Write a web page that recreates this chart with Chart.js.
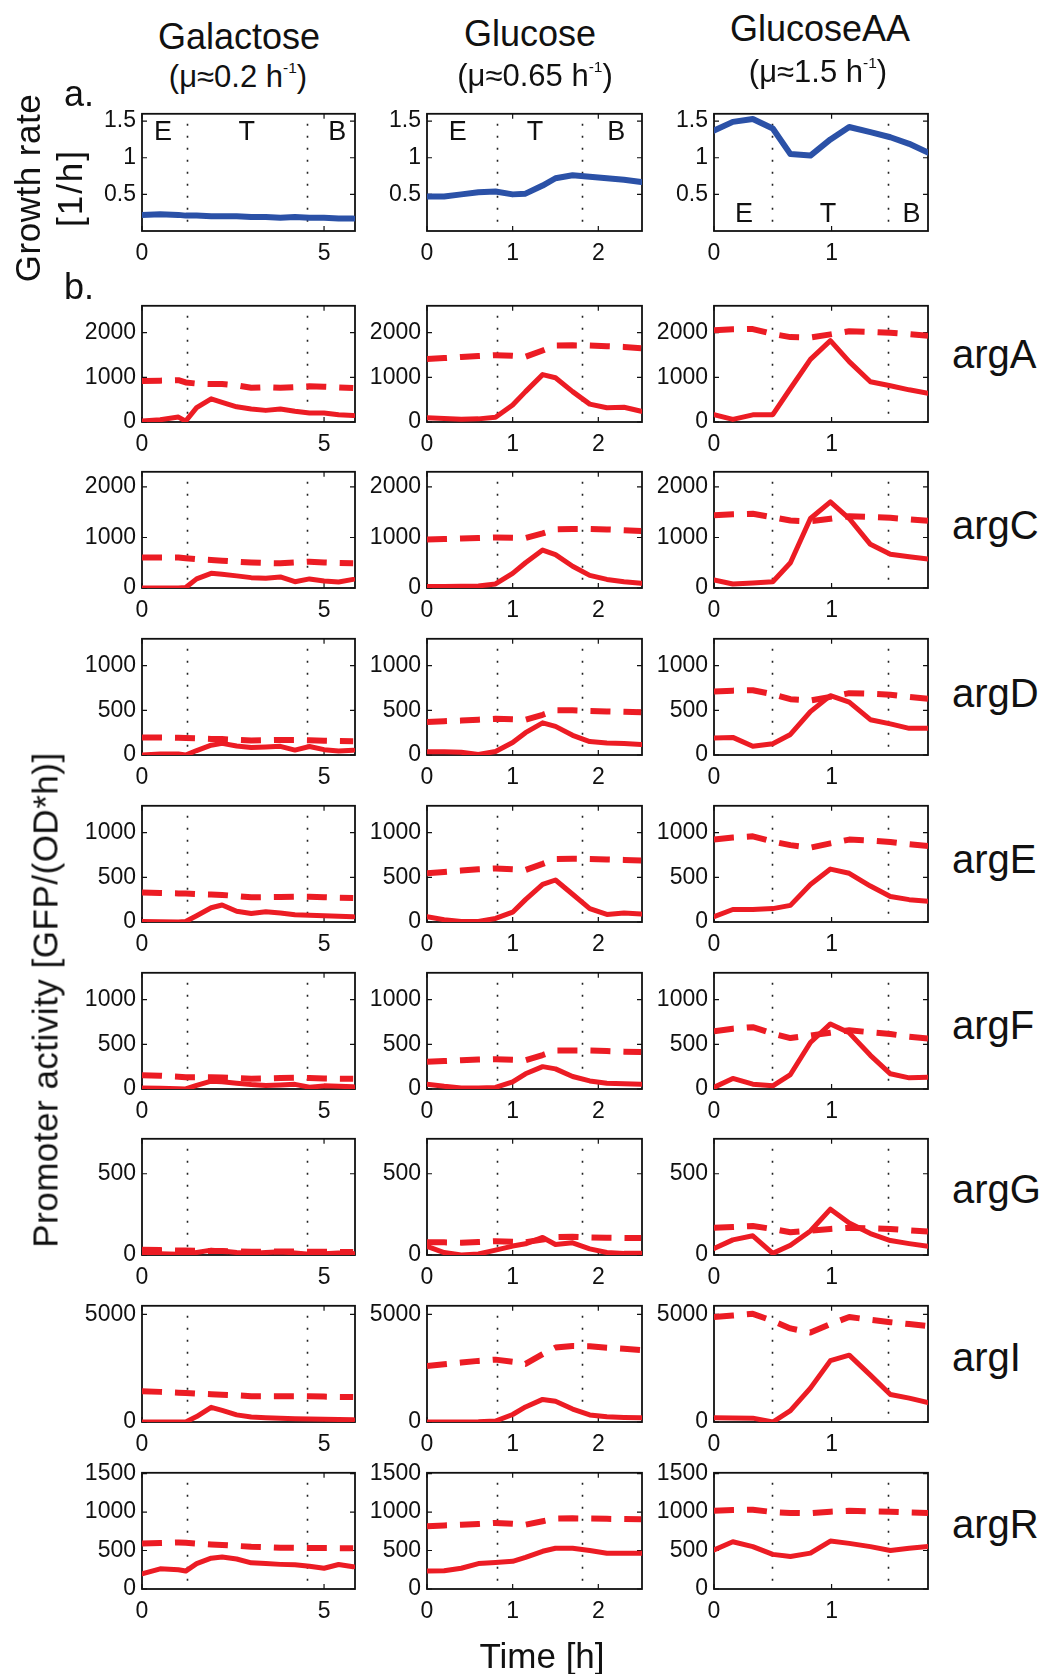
<!DOCTYPE html>
<html><head><meta charset="utf-8">
<script src="https://cdn.jsdelivr.net/npm/chart.js@4.4.1/dist/chart.umd.min.js"></script>
<style>
html,body{margin:0;padding:0;background:#fff;}
#fig{position:relative;width:1046px;height:1674px;overflow:hidden;font-family:"Liberation Sans",Arial,sans-serif;color:#111;}
#fig canvas{position:absolute;}
.lbl{position:absolute;white-space:nowrap;}
.lbl sup{font-size:0.5em;vertical-align:0.9em;line-height:0;}
</style></head><body><div id="fig"></div><script>
// ---- time grids (h) for the three growth conditions ----
const tGal = [0, 0.5, 1.0, 1.2, 1.5, 1.9, 2.2, 2.6, 3.0, 3.4, 3.8, 4.2, 4.6, 5.0, 5.4, 5.8];
const tGlu = [0, 0.2, 0.4, 0.6, 0.8, 1.0, 1.15, 1.35, 1.5, 1.7, 1.9, 2.1, 2.3, 2.5];
const tAA  = [0, 0.16, 0.33, 0.5, 0.65, 0.82, 0.99, 1.15, 1.33, 1.5, 1.66, 1.82];

// ---- growth rate [1/h] ----
const growthGal = [0.22, 0.23, 0.22, 0.21, 0.21, 0.20, 0.20, 0.20, 0.19, 0.19, 0.18, 0.19, 0.18, 0.18, 0.17, 0.17];
const growthGlu = [0.47, 0.47, 0.50, 0.53, 0.54, 0.50, 0.51, 0.62, 0.72, 0.76, 0.74, 0.72, 0.70, 0.67];
const growthAA  = [1.37, 1.49, 1.53, 1.40, 1.05, 1.03, 1.25, 1.42, 1.35, 1.28, 1.19, 1.07];

// ---- promoter activity [GFP/(OD*h)]: solid = activity, *_dash = dashed curve ----
const argA_gal = [20, 50, 110, 20, 320, 520, 440, 340, 290, 260, 290, 240, 200, 200, 160, 145];
const argA_gal_dash = [920, 925, 935, 885, 860, 850, 850, 820, 765, 780, 765, 780, 800, 790, 775, 760];
const argA_glu = [95, 80, 60, 70, 105, 380, 680, 1060, 990, 680, 400, 320, 330, 240];
const argA_glu_dash = [1410, 1430, 1455, 1475, 1495, 1480, 1460, 1600, 1710, 1715, 1710, 1695, 1680, 1650];
const argA_aa = [165, 58, 160, 165, 750, 1400, 1820, 1350, 900, 810, 720, 645];
const argA_aa_dash = [2055, 2075, 2080, 1970, 1900, 1890, 1960, 2030, 2015, 1995, 1965, 1930];

const argC_gal = [0, 0, 0, 10, 180, 290, 270, 240, 205, 195, 220, 125, 180, 140, 120, 170];
const argC_gal_dash = [605, 605, 605, 590, 570, 555, 540, 520, 505, 495, 490, 505, 520, 505, 495, 490];
const argC_glu = [30, 30, 35, 40, 80, 290, 500, 750, 660, 430, 250, 170, 125, 95];
const argC_glu_dash = [960, 970, 980, 990, 1000, 995, 990, 1080, 1160, 1170, 1170, 1160, 1145, 1130];
const argC_aa = [160, 80, 100, 125, 500, 1375, 1705, 1375, 865, 670, 620, 575];
const argC_aa_dash = [1440, 1460, 1470, 1400, 1335, 1320, 1370, 1420, 1405, 1390, 1360, 1330];

const argD_gal = [0, 10, 12, 0, 50, 110, 130, 100, 83, 90, 97, 55, 95, 60, 45, 54];
const argD_gal_dash = [197, 195, 192, 190, 186, 180, 178, 170, 162, 165, 168, 168, 165, 160, 157, 155];
const argD_glu = [36, 36, 30, 5, 40, 140, 250, 360, 320, 220, 150, 135, 130, 118];
const argD_glu_dash = [370, 378, 385, 395, 405, 400, 395, 450, 500, 500, 492, 488, 483, 477];
const argD_aa = [190, 197, 97, 126, 230, 485, 664, 592, 395, 348, 298, 298];
const argD_aa_dash = [710, 720, 725, 680, 625, 610, 650, 692, 685, 675, 650, 630];

const argE_gal = [6, 3, 0, 5, 70, 160, 190, 120, 95, 114, 100, 82, 75, 70, 65, 60];
const argE_gal_dash = [330, 325, 320, 318, 312, 308, 303, 290, 276, 278, 280, 283, 282, 278, 272, 269];
const argE_glu = [60, 25, 6, 6, 40, 110, 250, 420, 470, 310, 150, 85, 100, 89];
const argE_glu_dash = [545, 560, 575, 590, 599, 590, 582, 650, 705, 707, 705, 700, 695, 689];
const argE_aa = [60, 140, 140, 150, 186, 420, 592, 545, 402, 285, 250, 233];
const argE_aa_dash = [922, 945, 958, 900, 860, 832, 880, 922, 910, 895, 870, 850];

const argF_gal = [11, 8, 3, 0, 40, 88, 80, 65, 50, 40, 45, 52, 20, 35, 30, 25];
const argF_gal_dash = [154, 148, 138, 132, 132, 132, 130, 122, 114, 118, 122, 125, 122, 118, 115, 114];
const argF_glu = [54, 30, 11, 12, 18, 80, 170, 250, 225, 140, 90, 65, 58, 54];
const argF_glu_dash = [305, 313, 322, 330, 334, 328, 323, 380, 430, 432, 430, 425, 418, 413];
const argF_aa = [18, 118, 54, 36, 162, 520, 728, 628, 377, 170, 125, 132];
const argF_aa_dash = [646, 675, 692, 620, 570, 599, 630, 657, 635, 615, 585, 565];

const argG_gal = [10, 8, 5, 5, 15, 30, 25, 15, 10, 15, 20, 12, 5, 8, 12, 10];
const argG_gal_dash = [32, 30, 28, 27, 26, 25, 24, 22, 20, 21, 22, 22, 20, 20, 19, 18];
const argG_glu = [53, 15, 0, 6, 30, 55, 69, 108, 65, 75, 38, 15, 10, 10];
const argG_glu_dash = [79, 78, 76, 80, 85, 82, 79, 95, 110, 112, 108, 106, 105, 104];
const argG_aa = [40, 93, 118, 10, 60, 148, 282, 197, 132, 89, 70, 53];
const argG_aa_dash = [168, 172, 178, 160, 140, 150, 160, 168, 164, 160, 152, 144];

const argI_gal = [0, 0, 0, 5, 250, 680, 540, 330, 230, 200, 170, 150, 140, 130, 120, 110];
const argI_gal_dash = [1426, 1400, 1360, 1350, 1320, 1290, 1270, 1240, 1200, 1200, 1200, 1200, 1195, 1180, 1165, 1157];
const argI_glu = [0, 0, 0, 10, 45, 350, 700, 1050, 960, 600, 330, 240, 210, 195];
const argI_glu_dash = [2597, 2680, 2760, 2840, 2898, 2800, 2700, 3150, 3460, 3530, 3520, 3450, 3400, 3348];
const argI_aa = [198, 190, 180, 0, 527, 1575, 2853, 3105, 2178, 1278, 1110, 900];
const argI_aa_dash = [4878, 4950, 5027, 4700, 4350, 4158, 4550, 4878, 4750, 4640, 4550, 4455];

const argR_gal = [198, 262, 250, 233, 330, 400, 415, 390, 340, 330, 320, 314, 295, 270, 318, 290];
const argR_gal_dash = [592, 598, 605, 600, 590, 578, 572, 560, 550, 545, 537, 535, 533, 532, 531, 530];
const argR_glu = [233, 236, 270, 330, 345, 360, 410, 490, 529, 530, 500, 465, 465, 465];
const argR_glu_dash = [817, 826, 834, 845, 859, 848, 836, 880, 915, 919, 915, 912, 909, 906];
const argR_aa = [508, 614, 551, 450, 423, 466, 623, 593, 551, 500, 529, 551];
const argR_aa_dash = [1017, 1025, 1030, 1000, 988, 985, 1005, 1017, 1008, 1004, 995, 988];

// ---- axis settings ----
const conditionNames = ['Galactose', 'Glucose', 'GlucoseAA'];
const conditionRates = ['(\u03bc\u22480.2 h<sup>-1</sup>)', '(\u03bc\u22480.65 h<sup>-1</sup>)', '(\u03bc\u22481.5 h<sup>-1</sup>)'];
const xMaxes = [5.85, 2.51, 1.82];
const xTickValues = [[0, 5], [0, 1, 2], [0, 1]];
const phaseBounds = [[1.24, 4.54], [0.82, 1.81], [0.49, 1.48]];
const phaseNames = ['E', 'T', 'B'];
const phaseLabelX = [[0.58, 2.88, 5.36], [0.36, 1.26, 2.21], [0.255, 0.97, 1.68]];
const phaseLabelY = [1.243, 1.243, 0.123];
const growthTicks = [0.5, 1, 1.5];
const growthMax = 1.6;

const genes = ['argA', 'argC', 'argD', 'argE', 'argF', 'argG', 'argI', 'argR'];
const geneMax = [2600, 2300, 1300, 1300, 1300, 715, 5400, 1510];
const geneTicks = [[0, 1000, 2000], [0, 1000, 2000], [0, 500, 1000], [0, 500, 1000], [0, 500, 1000], [0, 500], [0, 5000], [0, 500, 1000, 1500]];
const geneSolid = [
  [argA_gal, argA_glu, argA_aa], [argC_gal, argC_glu, argC_aa], [argD_gal, argD_glu, argD_aa],
  [argE_gal, argE_glu, argE_aa], [argF_gal, argF_glu, argF_aa], [argG_gal, argG_glu, argG_aa],
  [argI_gal, argI_glu, argI_aa], [argR_gal, argR_glu, argR_aa]];
const geneDash = [
  [argA_gal_dash, argA_glu_dash, argA_aa_dash], [argC_gal_dash, argC_glu_dash, argC_aa_dash],
  [argD_gal_dash, argD_glu_dash, argD_aa_dash], [argE_gal_dash, argE_glu_dash, argE_aa_dash],
  [argF_gal_dash, argF_glu_dash, argF_aa_dash], [argG_gal_dash, argG_glu_dash, argG_aa_dash],
  [argI_gal_dash, argI_glu_dash, argI_aa_dash], [argR_gal_dash, argR_glu_dash, argR_aa_dash]];
const times = [tGal, tGlu, tAA];
const growth = [growthGal, growthGlu, growthAA];

// ---- page layout ----
const fig = document.getElementById('fig');
const FONT = '"Liberation Sans", Arial, sans-serif';
const colLeft = [142, 427, 714];
const colWidth = [213, 215, 214];
const growthTop = 110, growthH = 121;
const geneTop = [302, 468, 635, 802, 969, 1135, 1302, 1469];
const geneH = 120;
const geneBaseOff = [66, 71, 72, 71, 70, 68, 69, 69];
const RED = '#ec1c24', BLUE = '#2b51a7', INK = '#111';

function addText(html, o) {
  const d = document.createElement('div');
  d.className = 'lbl';
  d.innerHTML = html;
  d.style.fontSize = o.size + 'px';
  d.style.lineHeight = o.size + 'px';
  if (o.spacing) d.style.letterSpacing = o.spacing + 'px';
  if (o.rotate) {
    d.style.left = o.cx + 'px';
    d.style.top = o.cy + 'px';
    d.style.transform = 'translate(-50%,-50%) rotate(-90deg)';
  } else {
    d.style.top = (o.base - 0.8465 * o.size) + 'px';
    if (o.cx !== undefined) { d.style.left = o.cx + 'px'; d.style.transform = 'translateX(-50%)'; }
    else d.style.left = o.left + 'px';
  }
  fig.appendChild(d);
}

// frame, inner tick marks and phase boundaries for each axes box
const boxPlugin = {
  id: 'box',
  beforeDatasetsDraw(chart, args, opts) {
    const { ctx, chartArea: a, scales } = chart;
    ctx.save();
    ctx.strokeStyle = '#222';
    ctx.lineWidth = 1.6;
    ctx.setLineDash([2, 10]);
    ctx.lineDashOffset = 2;
    (opts.phases || []).forEach(v => {
      const x = Math.round(scales.x.getPixelForValue(v)) + 0.5;
      ctx.beginPath(); ctx.moveTo(x, a.top); ctx.lineTo(x, a.bottom); ctx.stroke();
    });
    ctx.setLineDash([]);
    ctx.strokeStyle = INK;
    ctx.lineWidth = 1.2;
    const tl = 5;
    scales.x.ticks.forEach(t => {
      const x = scales.x.getPixelForValue(t.value);
      ctx.beginPath();
      ctx.moveTo(x, a.top); ctx.lineTo(x, a.top + tl);
      ctx.moveTo(x, a.bottom); ctx.lineTo(x, a.bottom - tl);
      ctx.stroke();
    });
    scales.y.ticks.forEach(t => {
      const y = scales.y.getPixelForValue(t.value);
      ctx.beginPath();
      ctx.moveTo(a.left, y); ctx.lineTo(a.left + tl, y);
      ctx.moveTo(a.right, y); ctx.lineTo(a.right - tl, y);
      ctx.stroke();
    });
    ctx.lineWidth = 1.8;
    ctx.strokeRect(a.left, a.top, a.right - a.left, a.bottom - a.top);
    ctx.restore();
  },
  afterDraw(chart, args, opts) {
    if (!opts.labels) return;
    const { ctx, scales } = chart;
    ctx.save();
    ctx.fillStyle = INK;
    ctx.font = '27px ' + FONT;
    ctx.textAlign = 'center';
    ctx.textBaseline = 'alphabetic';
    opts.labels.forEach(l => ctx.fillText(l.text, scales.x.getPixelForValue(l.x), scales.y.getPixelForValue(l.y)));
    ctx.restore();
  }
};

function makePanel(col, top, h, yMax, yTicks, datasets, extra) {
  const padL = 80, padT = 16, padR = 8, padB = 44;
  const c = document.createElement('canvas');
  c.width = colWidth[col] + padL + padR;
  c.height = h + padT + padB;
  c.style.left = (colLeft[col] - padL) + 'px';
  c.style.top = (top - padT) + 'px';
  c.style.width = c.width + 'px';
  c.style.height = c.height + 'px';
  fig.appendChild(c);
  const tickFont = { family: FONT, size: 23 };
  new Chart(c.getContext('2d'), {
    type: 'line',
    data: { datasets },
    options: {
      responsive: false, animation: false, devicePixelRatio: 1,
      layout: { padding: { left: 0, top: padT, right: padR, bottom: 0 } },
      plugins: { legend: { display: false }, tooltip: { enabled: false }, box: extra },
      elements: { point: { radius: 0 }, line: { tension: 0 } },
      scales: {
        x: {
          type: 'linear', min: 0, max: xMaxes[col],
          grid: { display: false, drawTicks: false }, border: { display: false },
          afterBuildTicks: s => { s.ticks = xTickValues[col].map(v => ({ value: v })); },
          afterFit: s => { s.height = padB; },
          ticks: { padding: 9, font: tickFont, color: INK, maxRotation: 0, autoSkip: false, callback: v => String(v) }
        },
        y: {
          type: 'linear', min: 0, max: yMax,
          grid: { display: false, drawTicks: false }, border: { display: false },
          afterBuildTicks: s => { s.ticks = yTicks.map(v => ({ value: v })); },
          afterFit: s => { s.width = padL; },
          ticks: { padding: 6, font: tickFont, color: INK, autoSkip: false, callback: v => String(v) }
        }
      }
    },
    plugins: [boxPlugin]
  });
}

function series(t, v, color, width, dash) {
  return {
    data: t.map((x, i) => ({ x, y: v[i] })),
    borderColor: color, borderWidth: width, borderDash: dash || [],
    borderCapStyle: dash ? 'butt' : 'round', borderJoinStyle: 'round',
    fill: false, pointRadius: 0
  };
}

// growth rate row
for (let c = 0; c < 3; c++) {
  makePanel(c, growthTop, growthH, growthMax, growthTicks,
    [series(times[c], growth[c], BLUE, 6)],
    { phases: phaseBounds[c], labels: phaseNames.map((n, i) => ({ text: n, x: phaseLabelX[c][i], y: phaseLabelY[c] })) });
}
// promoter activity rows
genes.forEach((g, r) => {
  for (let c = 0; c < 3; c++) {
    makePanel(c, geneTop[r], geneH, geneMax[r], geneTicks[r],
      [series(times[c], geneDash[r][c], RED, 6, [20, 13]), series(times[c], geneSolid[r][c], RED, 5)],
      { phases: phaseBounds[c] });
  }
  addText(g, { left: 952, base: geneTop[r] + geneBaseOff[r], size: 40 });
});

// titles and axis labels
const titleCx = [239, 530, 820], titleBase = [49, 46, 41.5];
const rateCx = [238, 535, 818], rateBase = [87, 86, 82];
conditionNames.forEach((n, i) => {
  addText(n, { cx: titleCx[i], base: titleBase[i], size: 36 });
  addText(conditionRates[i], { cx: rateCx[i], base: rateBase[i], size: 31 });
});
addText('a.', { left: 64, base: 106, size: 36 });
addText('b.', { left: 64, base: 299, size: 36 });
addText('Growth rate', { cx: 27, cy: 188, size: 35, rotate: true, spacing: 0.5 });
addText('[1/h]', { cx: 69, cy: 188, size: 35, rotate: true, spacing: 2 });
addText('Promoter activity [GFP/(OD*h)]', { cx: 45, cy: 1000, size: 35, rotate: true, spacing: 0.5 });
addText('Time [h]', { cx: 542, base: 1668, size: 35 });
</script></body></html>
